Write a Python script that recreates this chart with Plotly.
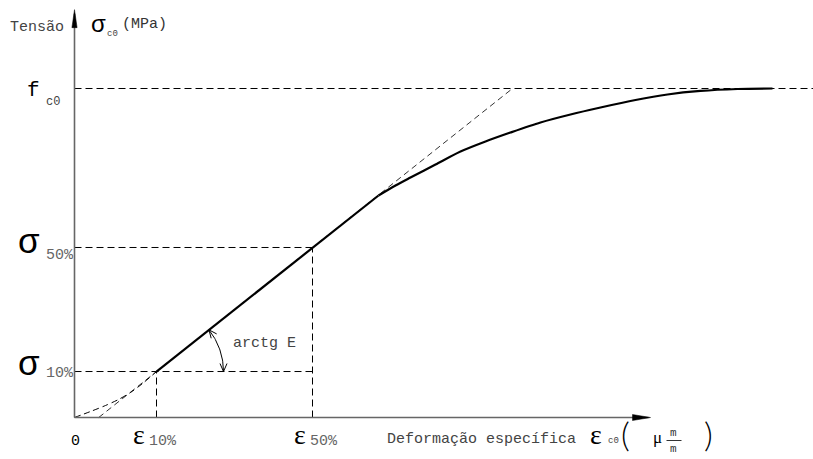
import numpy as np
import plotly.graph_objects as go

# ---------------- data (strain in micro-strain, stress in MPa) ----------------
toe_eps = [0, 160, 310, 440, 560, 680, 820]
toe_sig = [0, 0.73, 1.46, 2.19, 3.04, 4.13, 5.59]
lin_eps = [820, 3040]
lin_sig = [5.59, 26.99]
top_eps = [3040, 3210, 3360, 3610, 3860, 4110, 4360, 4660, 4960, 5260, 5610, 5930, 6260, 6630, 6980]
top_sig = [26.99, 28.21, 29.18, 30.76, 32.34, 33.56, 34.65, 35.87, 36.84, 37.69, 38.60, 39.27, 39.70, 39.94, 40.0]
tan_eps = [242, 4380]
tan_sig = [0, 40]
fc0 = 40.0
eps10, sig10 = 820, 5.59
eps50, sig50 = 2380, 20.67
x_axis_end = 5740
y_axis_end = 49.1
x_range = [-745, 7385]
y_range = [-5.045, 50.760]

y_tick_main = ["σ", "σ"]
y_tick_sub = ["50%", "10%"]
x_tick_main = ["ε", "ε"]
x_tick_sub = ["10%", "50%"]

W, H = 813, 459
DASH = "7px,4px"
MONO = "Liberation Mono"
SANS = "Liberation Sans"
SERIF = "Liberation Serif"

fig = go.Figure()

def line(x, y, dash=None, width=1.0, color="black", shape="linear"):
    fig.add_trace(go.Scatter(x=x, y=y, mode="lines", hoverinfo="skip", showlegend=False,
                             line=dict(color=color, width=width, dash=dash, shape=shape, smoothing=0.8)))

# guide lines
line([0, x_range[1]], [fc0, fc0], dash=DASH)
line([0, eps50], [sig50, sig50], dash=DASH)
line([eps50, eps50], [0, sig50], dash=DASH)
line([0, eps50], [sig10, sig10], dash=DASH)
line([eps10, eps10], [0, sig10], dash=DASH)
line(tan_eps, tan_sig, dash="6px,4px", color="#333")
line(toe_eps, toe_sig, dash="6px,4px", shape="spline")
# axes
line([0, 0], [0, y_axis_end], color="#666", width=1.6)
line([0, x_axis_end], [0, 0], color="#666", width=1.6)
# main curve
line(lin_eps, lin_sig, width=2.2)
line(top_eps, top_sig, width=2.2, shape="spline")

# arc for arctg E (radius in pixels around the sigma10 point)
px_per_x = W / (x_range[1] - x_range[0])
px_per_y = H / (y_range[1] - y_range[0])
ang = np.arctan(((tan_sig[1] - tan_sig[0]) * px_per_y) / ((tan_eps[1] - tan_eps[0]) * px_per_x))
R = 67
th = np.linspace(0, ang, 40)
line(eps10 + R * np.cos(th) / px_per_x, sig10 + R * np.sin(th) / px_per_y, width=1)

shapes = []
def vhead(xa, ya, direction, L=8, hw=3.5):
    d = np.array([np.cos(direction), np.sin(direction)])
    b = -d
    p = np.array([-d[1], d[0]])
    a1 = L * b + hw * p
    a2 = L * b - hw * p
    shapes.append(dict(type="path", xref="x", yref="y", xsizemode="pixel", ysizemode="pixel",
                       xanchor=xa, yanchor=ya,
                       path=f"M{a1[0]:.2f},{a1[1]:.2f} L0,0 L{a2[0]:.2f},{a2[1]:.2f}",
                       line=dict(color="black", width=1)))

# arrowheads at both arc ends (y up in pixel-size mode)
vhead(eps10 + R / px_per_x, sig10, -np.pi / 2)
vhead(eps10 + R * np.cos(ang) / px_per_x, sig10 + R * np.sin(ang) / px_per_y, ang + np.pi / 2)

# axis arrowheads
shapes.append(dict(type="path", xref="x", yref="y", xsizemode="pixel", ysizemode="pixel",
                   xanchor=0, yanchor=y_axis_end, path="M0,4 L-2.6,-14 L2.6,-14 Z",
                   fillcolor="black", line=dict(color="black", width=0.5)))
shapes.append(dict(type="path", xref="x", yref="y", xsizemode="pixel", ysizemode="pixel",
                   xanchor=x_axis_end, yanchor=0, path="M2,0 L-16,3 L-16,-3 Z",
                   fillcolor="black", line=dict(color="black", width=0.5)))

ann = []
def txt(text, x, y, size, family, color="black", xanchor="center", xshift=0, yshift=0, weight=None):
    f = dict(size=size, family=family, color=color)
    if weight is not None:
        f["weight"] = weight
    ann.append(dict(text=text, x=x, y=y, xref="x", yref="y", showarrow=False,
                    xanchor=xanchor, yanchor="middle", xshift=xshift, yshift=yshift, font=f))

# y-axis labels
txt("Tensão", 0, y_axis_end, 15, MONO, "#444", "right", -9, -14)
txt("σ", 0, y_axis_end, 24, SANS, "black", "left", 14, -10)
txt("c0", 0, y_axis_end, 9, MONO, "#444", "left", 30, -20)
txt("(MPa)", 0, y_axis_end, 15, MONO, "#333", "left", 45, -11)
txt("f", 0, fc0, 21, MONO, "black", "right", -33, -2)
txt("c0", 0, fc0, 12, MONO, "#444", "left", -31, -13)
for lab, sub, val, sy, my in zip(y_tick_main, y_tick_sub, [sig50, sig10], [-8, -2], [7, 9]):
    txt(lab, 0, val, 35, SANS, "black", "right", -33, my)
    txt(sub, 0, val, 15, MONO, "#666", "left", -31, sy)

# x-axis labels
txt("0", 0, 0, 15, MONO, "black", "center", 1, -24)
for lab, sub, val in zip(x_tick_main, x_tick_sub, [eps10, eps50]):
    xs = -18 if val == eps10 else -13
    txt(lab, val, 0, 28, SERIF, "black", "center", xs, -17)
    txt(sub, val, 0, 15, MONO, "#666", "left", xs + 8, -24)
txt("Deformação específica", x_axis_end, 0, 15, MONO, "#444", "right", -71, -22)
txt("ε", x_axis_end, 0, 28, SERIF, "black", "center", -53, -17)
txt("c0", x_axis_end, 0, 9, MONO, "#444", "left", -43, -23)
txt("(", x_axis_end, 0, 34, "Lato", "black", "center", -23, -16, weight=300)
txt("μ", x_axis_end, 0, 17, SERIF, "black", "center", 9, -20)
txt("m", x_axis_end, 0, 11, MONO, "#333", "center", 25, -15)
txt("m", x_axis_end, 0, 11, MONO, "#333", "center", 25, -31)
txt(")", x_axis_end, 0, 34, "Lato", "black", "center", 60, -16, weight=300)
# fraction bar
shapes.append(dict(type="path", xref="x", yref="y", xsizemode="pixel", ysizemode="pixel",
                   xanchor=x_axis_end, yanchor=0, path="M18,-23 L33,-23",
                   line=dict(color="#333", width=1)))

txt("arctg E", eps10, sig10, 15, MONO, "#444", "left", 74, 28)

fig.update_layout(width=W, height=H, autosize=False, margin=dict(l=0, r=0, t=0, b=0),
                  paper_bgcolor="white", plot_bgcolor="white",
                  xaxis=dict(range=x_range, visible=False, fixedrange=True),
                  yaxis=dict(range=y_range, visible=False, fixedrange=True),
                  shapes=shapes, annotations=ann, showlegend=False)
fig.write_html("out.html", config={"displayModeBar": False},
               post_script="document.body.style.margin='0px';document.body.style.overflow='hidden';")
